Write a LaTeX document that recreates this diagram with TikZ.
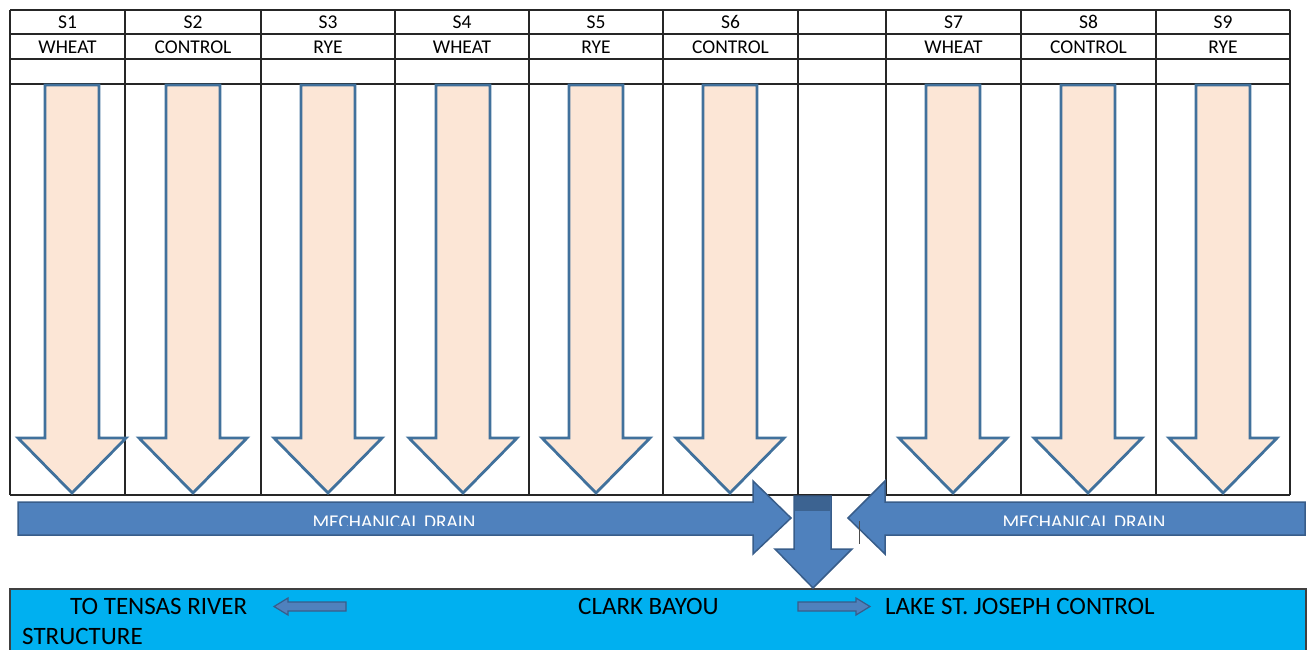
\documentclass[tikz,border=0pt]{standalone}
\usepackage{fontspec}
\setmainfont{Carlito}
\definecolor{peach}{HTML}{FCE6D6}
\definecolor{stripedge}{HTML}{41719C}
\definecolor{drainblue}{HTML}{4F81BD}
\definecolor{drainedge}{HTML}{385D8A}
\definecolor{bayou}{HTML}{00B0F0}
\begin{document}
\begin{tikzpicture}[x=1pt,y=-1pt,
    grid/.style={black!85,line width=1.1pt},
    cell/.style={inner sep=0pt,anchor=base,font=\fontsize{19.5}{22}\selectfont},
    strip/.style={draw=stripedge,fill=peach,line width=2.8pt,line join=miter},
    drain/.style={draw=drainedge,fill=drainblue,line width=1.5pt},
    label/.style={inner sep=0pt,anchor=base west,font=\fontsize{25}{30}\selectfont}]
  \useasboundingbox (0,0) rectangle (1307,650);
  % plot table
  \foreach \ry in {10,34,59,84,495}
    \draw[grid] (10,\ry) -- (1290,\ry);
  \foreach \cx in {10,125,261,395,529,663,798,886,1021,1156,1290}
    \draw[grid] (\cx,10) -- (\cx,495);
  \foreach \cx/\plot/\crop in {67.5/S1/WHEAT,193/S2/CONTROL,328/S3/RYE,
      462/S4/WHEAT,596/S5/RYE,730.5/S6/CONTROL,953.5/S7/WHEAT,
      1088.5/S8/CONTROL,1223/S9/RYE} {
    \node[cell] (plot-\plot) at (\cx,29) {\plot};
    \node[cell] (crop-\plot) at (\cx,54) {\crop};
  }
  % flow arrows in each plot
  \foreach \cx in {72,193,328,463,596,730,953,1088,1223}
    \draw[strip] ({\cx-27},85) -- ({\cx+27},85) -- ({\cx+27},438) -- ({\cx+54},438)
      -- (\cx,493) -- ({\cx-54},438) -- ({\cx-27},438) -- cycle;
  % mechanical drains
  \draw[drain] (18,502) -- (753,502) -- (753,481) -- (791,518) -- (753,554)
    -- (753,535) -- (18,535) -- cycle;
  \draw[drain] (1305,502) -- (885,502) -- (885,481) -- (848,518) -- (885,554)
    -- (885,535) -- (1305,535) -- cycle;
  \begin{scope}
    \clip (0,500) rectangle (1307,525.5);
    \node[cell,text=white] (drain-left) at (394,528) {MECHANICAL DRAIN};
    \node[cell,text=white] (drain-right) at (1084,528) {MECHANICAL DRAIN};
  \end{scope}
  \draw[gray!60!black,line width=1pt] (859,521) -- (859,544);
  % bayou
  \draw[draw=black!75,fill=bayou,line width=1.2pt] (10,589) rectangle (1306,660);
  \draw[drain] (794,496) -- (831,496) -- (831,549) -- (852,549) -- (813,588)
    -- (775,549) -- (794,549) -- cycle;
  \fill[drainedge!85!black,opacity=.6] (795,497) rectangle (830,511);
  \node[label] (tensas) at (70,614) {TO TENSAS RIVER};
  \node[label] (structure) at (22,644) {STRUCTURE};
  \node[label] (clark) at (578,614) {CLARK BAYOU};
  \node[label] (lake) at (885,614) {LAKE ST. JOSEPH CONTROL};
  \draw[drain,line width=1.2pt] (346,602) -- (288,602) -- (288,598) -- (274,606.5)
    -- (288,615) -- (288,611) -- (346,611) -- cycle;
  \draw[drain,line width=1.2pt] (798,602) -- (856,602) -- (856,598) -- (870,606.5)
    -- (856,615) -- (856,611) -- (798,611) -- cycle;
\end{tikzpicture}
\end{document}
